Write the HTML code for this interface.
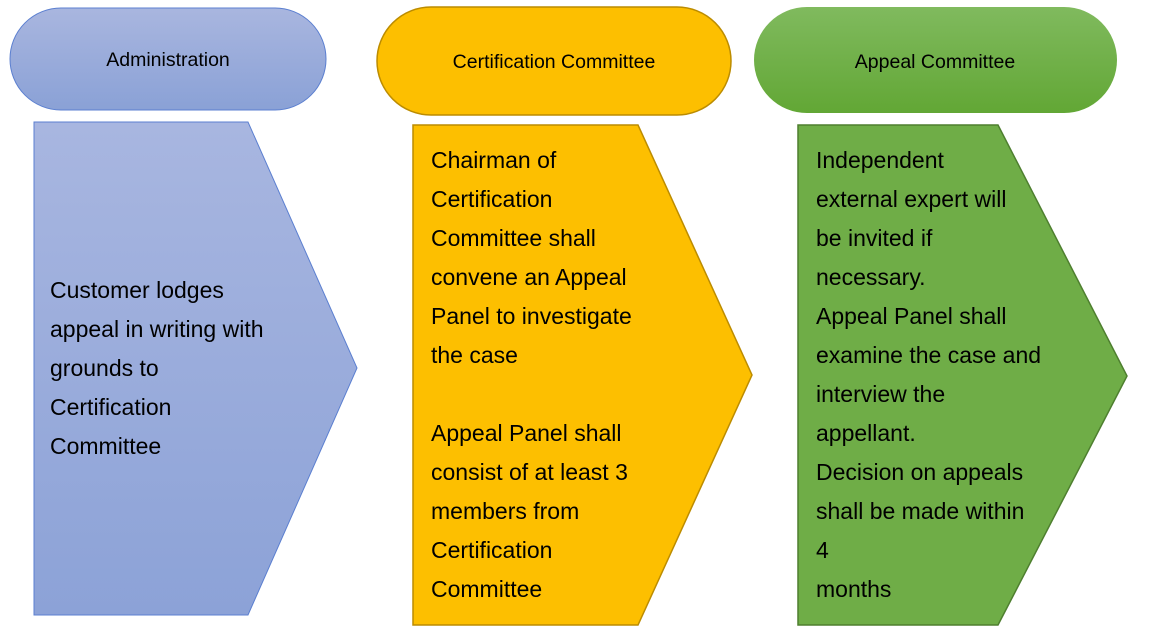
<!DOCTYPE html>
<html><head><meta charset="utf-8"><style>
html,body{margin:0;padding:0;background:#fff;width:1166px;height:638px;overflow:hidden}
svg{display:block}
text{font-family:"Liberation Sans",sans-serif;fill:#000}
.h{font-size:19.5px}
.b{font-size:23px}
</style></head><body>
<svg width="1166" height="638" viewBox="0 0 1166 638" xmlns="http://www.w3.org/2000/svg">
<defs>
<linearGradient id="gb" x1="0" y1="0" x2="0" y2="1"><stop offset="0" stop-color="#a9b6df"/><stop offset="1" stop-color="#8aa1d6"/></linearGradient>
<linearGradient id="gb2" x1="0" y1="0" x2="0" y2="1"><stop offset="0" stop-color="#a8b6e0"/><stop offset="1" stop-color="#8ca2d7"/></linearGradient>
<linearGradient id="gg" x1="0" y1="0" x2="0" y2="1"><stop offset="0" stop-color="#80ba5e"/><stop offset="1" stop-color="#62a735"/></linearGradient>
</defs>
<rect x="10" y="8" width="316" height="102" rx="51" fill="url(#gb)" stroke="#5b7fd0" stroke-width="1"/>
<text class="h" x="168" y="66" text-anchor="middle">Administration</text>
<polygon points="34,122 248,122 357,368 248,615 34,615" fill="url(#gb2)" stroke="#5b7fd0" stroke-width="1"/>
<text class="b" x="50" y="298">Customer lodges</text>
<text class="b" x="50" y="337">appeal in writing with</text>
<text class="b" x="50" y="376">grounds to</text>
<text class="b" x="50" y="415">Certification</text>
<text class="b" x="50" y="454">Committee</text>
<rect x="377" y="7" width="354" height="108" rx="54" fill="#fdbf00" stroke="#bc8c00" stroke-width="1.5"/>
<text class="h" x="554" y="68" text-anchor="middle">Certification Committee</text>
<polygon points="413,125 638,125 752,375 638,625 413,625" fill="#fdbf00" stroke="#bc8c00" stroke-width="1.5"/>
<text class="b" x="431" y="168">Chairman of</text>
<text class="b" x="431" y="207">Certification</text>
<text class="b" x="431" y="246">Committee shall</text>
<text class="b" x="431" y="285">convene an Appeal</text>
<text class="b" x="431" y="324">Panel to investigate</text>
<text class="b" x="431" y="363">the case</text>
<text class="b" x="431" y="441">Appeal Panel shall</text>
<text class="b" x="431" y="480">consist of at least 3</text>
<text class="b" x="431" y="519">members from</text>
<text class="b" x="431" y="558">Certification</text>
<text class="b" x="431" y="597">Committee</text>
<rect x="754" y="7" width="363" height="106" rx="53" fill="url(#gg)"/>
<text class="h" x="935" y="68" text-anchor="middle">Appeal Committee</text>
<polygon points="798,125 998,125 1127,376 998,625 798,625" fill="#6fad47" stroke="#4e7f2f" stroke-width="1.5"/>
<text class="b" x="816" y="168">Independent</text>
<text class="b" x="816" y="207">external expert will</text>
<text class="b" x="816" y="246">be invited if</text>
<text class="b" x="816" y="285">necessary.</text>
<text class="b" x="816" y="324">Appeal Panel shall</text>
<text class="b" x="816" y="363">examine the case and</text>
<text class="b" x="816" y="402">interview the</text>
<text class="b" x="816" y="441">appellant.</text>
<text class="b" x="816" y="480">Decision on appeals</text>
<text class="b" x="816" y="519">shall be made within</text>
<text class="b" x="816" y="558">4</text>
<text class="b" x="816" y="597">months</text>
</svg>
</body></html>
